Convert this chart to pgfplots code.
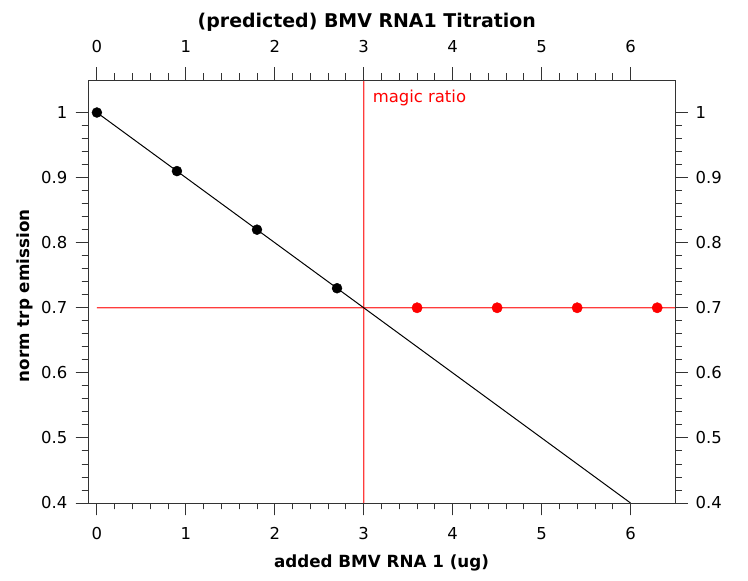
\documentclass[border=0pt]{standalone}
\usepackage{fontspec}
\setmainfont{DejaVu Sans}
\usepackage{pgfplots}
\pgfplotsset{compat=1.18}
\definecolor{refred}{RGB}{255,0,0}
\definecolor{linered}{RGB}{255,60,60}
\begin{document}
\begin{tikzpicture}[x=1bp,y=1bp]
\useasboundingbox (0,0) rectangle (748,581);
\pgfplotsset{
  common/.style={
    at={(88bp,78bp)}, anchor=south west,
    scale only axis, width=587bp, height=423bp,
    xmin=-0.1, xmax=6.5, ymin=0.4, ymax=1.05,
    xtick={0,1,2,3,4,5,6}, ytick={0.4,0.5,0.6,0.7,0.8,0.9,1},
    minor x tick num=4, minor y tick num=4,
    tick align=outside,
    major tick length=12.5bp, minor tick length=6.5bp,
    axis line style={black!80, line width=0.9bp},
    every tick/.append style={black!80, line width=0.9bp},
    /pgf/number format/assume math mode=true,
    ticklabel style={font=\fontsize{16.5}{19}\selectfont, inner sep=2bp},
    clip=true,
  }
}
\begin{axis}[common,
  xticklabel style={yshift=-9.5bp},
  yticklabel style={xshift=-6bp},
  xlabel={\bfseries added BMV RNA 1 (ug)},
  ylabel={\bfseries norm trp emission},
  label style={font=\fontsize{16.8}{19}\selectfont},
  xlabel style={at={(axis description cs:0.5,0)}, anchor=base, yshift=-65bp},
  ylabel style={at={(axis description cs:-0.107,0.49)}, anchor=center},
]
% red reference lines, drawn as thin filled bands (y = 0.7 from x = 0; x = 3)
\addplot[fill=linered, draw=none, forget plot] coordinates {(6.5,0.69895) (0,0.69895) (0,0.70105) (6.5,0.70105)} \closedcycle;
\addplot[fill=linered, draw=none, forget plot] coordinates {(2.9923,0.4) (2.9923,1.05) (3.0077,1.05) (3.0077,0.4)} \closedcycle;
\addplot[black, line width=1bp, forget plot] coordinates {(0,1) (6,0.4)};
\addplot[only marks, mark=*, mark size=5bp, black] coordinates {(0,1) (0.9,0.91) (1.8,0.82) (2.7,0.73)};
\addplot[only marks, mark=*, mark size=5.2bp, refred] coordinates {(3.6,0.7) (4.5,0.7) (5.4,0.7) (6.3,0.7)};
\node[anchor=base west, inner sep=0pt, text=refred, font=\fontsize{16.5}{19}\selectfont] at (axis cs:3.1,1.016) {magic ratio};
\end{axis}
\begin{axis}[common,
  xticklabel pos=right, yticklabel pos=right,
  xticklabel style={yshift=12.5bp},
  yticklabel style={xshift=6bp},
  title={\bfseries (predicted) BMV RNA1 Titration},
  title style={font=\fontsize{19}{22}\selectfont, at={(0.475,1)}, anchor=base, yshift=47bp},
]
\end{axis}
\end{tikzpicture}
\end{document}
